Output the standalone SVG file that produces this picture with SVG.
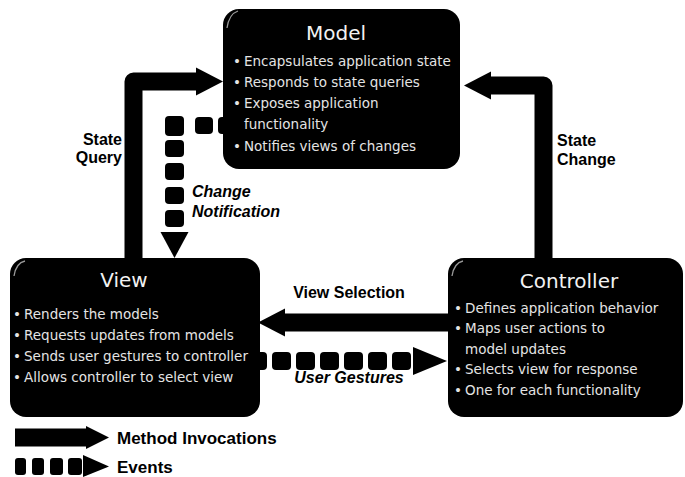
<svg xmlns="http://www.w3.org/2000/svg" width="685" height="477" viewBox="0 0 685 477">
<style>
.box{fill:#000}
.gloss{fill:none;stroke:#9a9a9a;stroke-width:1.3}
.title{font-family:"DejaVu Sans",sans-serif;font-size:20px;fill:#f2f2f2;text-anchor:middle}
.bul{font-family:"DejaVu Sans",sans-serif;font-size:13.5px;fill:#e4e4e4}
.solid{fill:none;stroke:#000;stroke-width:18;stroke-linejoin:round}
.dot{fill:#000}
.head{fill:#000}
.lbl{font-family:"Liberation Sans",Arial,sans-serif;font-weight:bold;font-size:16px;fill:#000}
.it{font-style:italic}
.leg{font-family:"Liberation Sans",Arial,sans-serif;font-weight:bold;font-size:17px;fill:#000}
</style>
<defs>
<marker id="ah" markerUnits="userSpaceOnUse" markerWidth="30" markerHeight="30" refX="2" refY="15" orient="auto">
<path d="M0,1 L27,15 L0,29 z" fill="#000"/>
</marker>
</defs>
<rect width="685" height="477" fill="#fff"/>

<g id="connectors">
<!-- State Query -->
<path class="solid" d="M133.5,258 V81.5 H198" stroke-width="17" marker-end="url(#ah)"/>
<!-- State Change -->
<path class="solid" d="M543.5,258 V85.5 H489" marker-end="url(#ah)"/>
<!-- View Selection -->
<path class="solid" d="M448,322.5 H283" marker-end="url(#ah)"/>
<!-- Change Notification (dotted) -->
<g id="change-notification">
<rect class="dot" x="218" y="117" width="18" height="17" rx="4"/>
<rect class="dot" x="195" y="117" width="18" height="17" rx="4"/>
<rect class="dot" x="165" y="116" width="19" height="20" rx="4"/>
<rect class="dot" x="165" y="140" width="19" height="17" rx="4"/>
<rect class="dot" x="165" y="163" width="19" height="17" rx="4"/>
<rect class="dot" x="165" y="187" width="19" height="17" rx="4"/>
<rect class="dot" x="165" y="210" width="19" height="17" rx="4"/>
<polygon class="head" points="160.5,232 188.5,232 174.5,258"/>
</g>
<!-- User Gestures (dotted) -->
<g id="user-gestures">
<rect class="dot" x="248" y="352" width="19" height="18" rx="4"/>
<rect class="dot" x="272" y="352" width="19" height="18" rx="4"/>
<rect class="dot" x="296" y="352" width="19" height="18" rx="4"/>
<rect class="dot" x="320" y="352" width="19" height="18" rx="4"/>
<rect class="dot" x="344" y="352" width="19" height="18" rx="4"/>
<rect class="dot" x="368" y="352" width="19" height="18" rx="4"/>
<rect class="dot" x="392" y="352" width="19" height="18" rx="4"/>
<polygon class="head" points="413,347 413,375 447,361"/>
</g>
<text class="lbl" x="122" y="145" text-anchor="end">State</text>
<text class="lbl" x="122" y="163" text-anchor="end">Query</text>
<text class="lbl" x="557" y="146">State</text>
<text class="lbl" x="557" y="165">Change</text>
<text class="lbl it" x="192" y="197">Change</text>
<text class="lbl it" x="192" y="217">Notification</text>
<text class="lbl" x="349" y="298" text-anchor="middle">View Selection</text>
<text class="lbl it" x="349" y="383" text-anchor="middle">User Gestures</text>
</g>

<g id="model">
<rect class="box" x="223" y="9" width="237" height="160" rx="16"/>
<path class="gloss" d="M227,28 Q229,14 238,11"/>
<text class="title" x="336" y="40">Model</text>
<text class="bul" x="233" y="66">•<tspan x="244">Encapsulates application state</tspan></text>
<text class="bul" x="233" y="87">•<tspan x="244">Responds to state queries</tspan></text>
<text class="bul" x="233" y="108">•<tspan x="244">Exposes application</tspan></text>
<text class="bul" x="244" y="129">functionality</text>
<text class="bul" x="233" y="151">•<tspan x="244">Notifies views of changes</tspan></text>
</g>

<g id="view">
<rect class="box" x="10" y="258" width="250" height="159" rx="16"/>
<path class="gloss" d="M14,276 Q16,263 25,261"/>
<text class="title" x="124" y="287">View</text>
<text class="bul" x="13" y="319">•<tspan x="24">Renders the models</tspan></text>
<text class="bul" x="13" y="340">•<tspan x="24">Requests updates from models</tspan></text>
<text class="bul" x="13" y="361">•<tspan x="24">Sends user gestures to controller</tspan></text>
<text class="bul" x="13" y="382">•<tspan x="24">Allows controller to select view</tspan></text>
</g>

<g id="controller">
<rect class="box" x="448" y="258" width="235" height="159" rx="16"/>
<path class="gloss" d="M452,276 Q454,263 463,261"/>
<text class="title" x="569" y="288">Controller</text>
<text class="bul" x="454" y="313">•<tspan x="465">Defines application behavior</tspan></text>
<text class="bul" x="454" y="333">•<tspan x="465">Maps user actions to</tspan></text>
<text class="bul" x="465" y="354">model updates</text>
<text class="bul" x="454" y="374">•<tspan x="465">Selects view for response</tspan></text>
<text class="bul" x="454" y="395">•<tspan x="465">One for each functionality</tspan></text>
</g>

<g id="legend">
<path class="solid" d="M15,437.5 H88" stroke-width="13"/>
<polygon class="head" points="86,426 109,437.5 86,449"/>
<text class="leg" x="117" y="444">Method Invocations</text>
<rect class="dot" x="15" y="458" width="11" height="17" rx="3"/>
<rect class="dot" x="32" y="458" width="12" height="17" rx="3"/>
<rect class="dot" x="50" y="458" width="13" height="17" rx="3"/>
<rect class="dot" x="68" y="458" width="14" height="17" rx="3"/>
<polygon class="head" points="83,455 109,466.5 83,477"/>
<text class="leg" x="117" y="473">Events</text>
</g>
</svg>
